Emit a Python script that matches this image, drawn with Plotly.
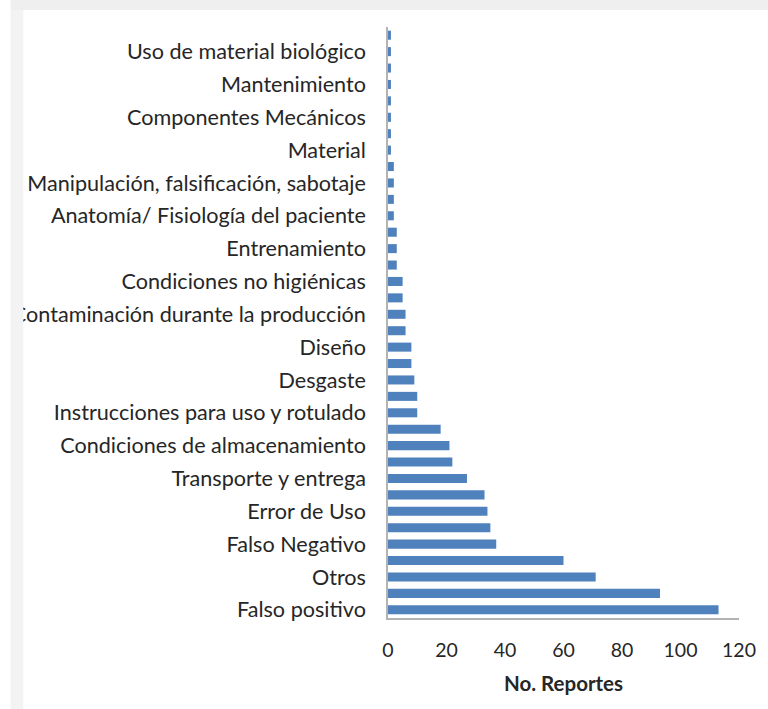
import plotly.graph_objects as go

# etiquetas visibles (una de cada dos barras), de abajo hacia arriba
causas = [
    'Falso positivo', 'Otros', 'Falso Negativo', 'Error de Uso',
    'Transporte y entrega', 'Condiciones de almacenamiento',
    'Instrucciones para uso y rotulado', 'Desgaste', 'Diseño',
    'Contaminación durante la producción', 'Condiciones no higiénicas',
    'Entrenamiento', 'Anatomía/ Fisiología del paciente',
    'Manipulación, falsificación, sabotaje', 'Material',
    'Componentes Mecánicos', 'Mantenimiento', 'Uso de material biológico',
]

# número de reportes por causa, de abajo hacia arriba (36 barras)
reportes = [
    113, 93, 71, 60, 37, 35, 34, 33, 27, 22, 21, 18,
    10, 10, 9, 8, 8, 6, 6, 5, 5, 3, 3, 3,
    2, 2, 2, 2, 1, 1, 1, 1, 1, 1, 1, 1,
]

posiciones = list(range(1, len(reportes) + 1))
font = 'Lato, Open Sans, sans-serif'

fig = go.Figure(go.Bar(
    x=reportes,
    y=posiciones,
    orientation='h',
    marker=dict(color='#4f81bd', line=dict(width=0)),
    hovertemplate='%{x} reportes<extra></extra>',
))

fig.update_layout(
    width=768, height=709,
    margin=dict(l=385, r=25, t=27, b=91),
    paper_bgcolor='white', plot_bgcolor='white',
    bargap=0.45,
    showlegend=False,
    font=dict(family=font, size=21, color='#262626'),
    xaxis=dict(
        range=[0, 120], dtick=20, tick0=0,
        showgrid=False, zeroline=False,
        showline=True, linecolor='#b3b3b3', linewidth=1.5,
        ticks='', ticklabelstandoff=14,
        tickfont=dict(size=19.5),
        title=dict(text='<b>No. Reportes</b>', font=dict(size=20.5), standoff=16),
    ),
    yaxis=dict(
        range=[0.5, len(reportes) + 0.5],
        tickmode='array', tickvals=posiciones[::2], ticktext=causas,
        showgrid=False, zeroline=False,
        showline=True, linecolor='#b3b3b3', linewidth=1.5,
        ticks='', ticklabelstandoff=16,
        tickfont=dict(size=21.6),
    ),
    shapes=[
        dict(type='rect', xref='paper', yref='paper', layer='above',
             x0=-385 / 358, x1=410 / 358, y0=1 + 17 / 591, y1=1 + 27 / 591,
             fillcolor='#efefef', line=dict(width=0)),
        dict(type='rect', xref='paper', yref='paper', layer='above',
             x0=-385 / 358, x1=-372 / 358, y0=-91 / 591, y1=1 + 17 / 591,
             fillcolor='#f3f3f3', line=dict(width=0)),
    ],
)

fig.write_html('out.html', config={'displayModeBar': False},
               post_script="document.body.style.margin='0';")
